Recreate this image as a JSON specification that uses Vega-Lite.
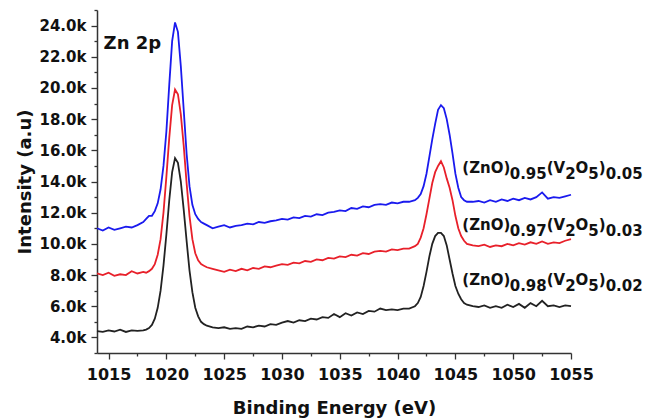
{
  "$schema": "https://vega.github.io/schema/vega-lite/v6.json",
  "width": 474,
  "height": 343,
  "autosize": {"type": "none"},
  "padding": {"left": 97, "top": 10, "right": 93, "bottom": 66},
  "background": "white",
  "config": {"view": {"stroke": null}},
  "datasets": {
    "spec": [
      {"e":1014,"b":4400,"r":8100,"u":11000},
      {"e":1014.5,"b":4350,"r":8000,"u":10850},
      {"e":1015,"b":4450,"r":8150,"u":11050},
      {"e":1015.5,"b":4380,"r":7950,"u":10900},
      {"e":1016,"b":4500,"r":8050,"u":11000},
      {"e":1016.5,"b":4350,"r":8000,"u":11100},
      {"e":1017,"b":4450,"r":8250,"u":11050},
      {"e":1017.5,"b":4420,"r":8100,"u":11200},
      {"e":1018,"b":4450,"r":8200,"u":11400},
      {"e":1018.25,"b":4500,"r":8150,"u":11600},
      {"e":1018.5,"b":4600,"r":8250,"u":11800},
      {"e":1018.75,"b":4800,"r":8400,"u":11800},
      {"e":1019,"b":5200,"r":8700,"u":12100},
      {"e":1019.25,"b":5900,"r":9300,"u":12600},
      {"e":1019.5,"b":7000,"r":10300,"u":13500},
      {"e":1019.75,"b":8600,"r":12000,"u":15000},
      {"e":1020,"b":10600,"r":14300,"u":17200},
      {"e":1020.25,"b":12800,"r":16800,"u":20200},
      {"e":1020.5,"b":14600,"r":18900,"u":23000},
      {"e":1020.75,"b":15500,"r":19900,"u":24200},
      {"e":1021,"b":15200,"r":19600,"u":23600},
      {"e":1021.25,"b":14000,"r":18300,"u":21400},
      {"e":1021.5,"b":12200,"r":16300,"u":18600},
      {"e":1021.75,"b":10200,"r":13900,"u":15800},
      {"e":1022,"b":8300,"r":11800,"u":13700},
      {"e":1022.25,"b":6900,"r":10300,"u":12500},
      {"e":1022.5,"b":5900,"r":9400,"u":11900},
      {"e":1022.75,"b":5350,"r":8950,"u":11600},
      {"e":1023,"b":5000,"r":8700,"u":11400},
      {"e":1023.25,"b":4850,"r":8600,"u":11300},
      {"e":1023.5,"b":4750,"r":8500,"u":11200},
      {"e":1024,"b":4650,"r":8400,"u":11000},
      {"e":1024.5,"b":4600,"r":8300,"u":11100},
      {"e":1025,"b":4650,"r":8200,"u":11200},
      {"e":1025.5,"b":4550,"r":8350,"u":11050},
      {"e":1026,"b":4600,"r":8250,"u":11150},
      {"e":1026.5,"b":4550,"r":8400,"u":11200},
      {"e":1027,"b":4700,"r":8300,"u":11300},
      {"e":1027.5,"b":4650,"r":8450,"u":11250},
      {"e":1028,"b":4750,"r":8400,"u":11400},
      {"e":1028.5,"b":4700,"r":8550,"u":11350},
      {"e":1029,"b":4850,"r":8500,"u":11450},
      {"e":1029.5,"b":4800,"r":8600,"u":11500},
      {"e":1030,"b":4950,"r":8700,"u":11600},
      {"e":1030.5,"b":5050,"r":8650,"u":11550},
      {"e":1031,"b":4950,"r":8800,"u":11700},
      {"e":1031.5,"b":5100,"r":8750,"u":11650},
      {"e":1032,"b":5050,"r":8900,"u":11800},
      {"e":1032.5,"b":5200,"r":8850,"u":11750},
      {"e":1033,"b":5150,"r":9000,"u":11900},
      {"e":1033.5,"b":5300,"r":8950,"u":11850},
      {"e":1034,"b":5250,"r":9100,"u":12000},
      {"e":1034.5,"b":5500,"r":9050,"u":12050},
      {"e":1035,"b":5300,"r":9200,"u":12150},
      {"e":1035.5,"b":5550,"r":9150,"u":12100},
      {"e":1036,"b":5400,"r":9300,"u":12300},
      {"e":1036.5,"b":5600,"r":9250,"u":12250},
      {"e":1037,"b":5500,"r":9400,"u":12400},
      {"e":1037.5,"b":5700,"r":9350,"u":12350},
      {"e":1038,"b":5650,"r":9500,"u":12500},
      {"e":1038.5,"b":5850,"r":9550,"u":12550},
      {"e":1039,"b":5750,"r":9500,"u":12500},
      {"e":1039.5,"b":5800,"r":9650,"u":12650},
      {"e":1040,"b":5750,"r":9600,"u":12600},
      {"e":1040.5,"b":5850,"r":9700,"u":12700},
      {"e":1041,"b":5850,"r":9700,"u":12700},
      {"e":1041.5,"b":6000,"r":9850,"u":12800},
      {"e":1041.75,"b":6200,"r":10000,"u":12950},
      {"e":1042,"b":6600,"r":10400,"u":13200},
      {"e":1042.25,"b":7300,"r":11000,"u":13700},
      {"e":1042.5,"b":8200,"r":11900,"u":14500},
      {"e":1042.75,"b":9200,"r":12900,"u":15600},
      {"e":1043,"b":10000,"r":13900,"u":16700},
      {"e":1043.25,"b":10500,"r":14600,"u":17700},
      {"e":1043.5,"b":10700,"r":15000,"u":18600},
      {"e":1043.75,"b":10700,"r":15300,"u":18900},
      {"e":1044,"b":10500,"r":14900,"u":18700},
      {"e":1044.25,"b":9900,"r":14200,"u":18000},
      {"e":1044.5,"b":9000,"r":13600,"u":17000},
      {"e":1044.75,"b":8100,"r":12800,"u":15800},
      {"e":1045,"b":7300,"r":11800,"u":14500},
      {"e":1045.25,"b":6800,"r":11000,"u":13600},
      {"e":1045.5,"b":6450,"r":10500,"u":13000},
      {"e":1045.75,"b":6200,"r":10200,"u":12800},
      {"e":1046,"b":6100,"r":10000,"u":12700},
      {"e":1046.5,"b":6000,"r":9900,"u":12700},
      {"e":1047,"b":5950,"r":9850,"u":12750},
      {"e":1047.5,"b":6050,"r":9950,"u":12650},
      {"e":1048,"b":5900,"r":9800,"u":12800},
      {"e":1048.5,"b":6000,"r":9900,"u":12700},
      {"e":1049,"b":5900,"r":9850,"u":12850},
      {"e":1049.5,"b":6100,"r":10000,"u":12750},
      {"e":1050,"b":5950,"r":9900,"u":12900},
      {"e":1050.5,"b":6150,"r":10050,"u":12800},
      {"e":1051,"b":5900,"r":9950,"u":12950},
      {"e":1051.5,"b":6200,"r":10100,"u":12850},
      {"e":1052,"b":6000,"r":10000,"u":13000},
      {"e":1052.5,"b":6350,"r":10150,"u":13300},
      {"e":1053,"b":6000,"r":10000,"u":12900},
      {"e":1053.5,"b":6050,"r":10100,"u":13000},
      {"e":1054,"b":5950,"r":10050,"u":12950},
      {"e":1054.5,"b":6050,"r":10200,"u":13050},
      {"e":1055,"b":6000,"r":10300,"u":13150}
    ],
    "labels": [
      {"t":"(ZnO)","e":1045.6,"v":14550,"k":"m"},
      {"t":"0.95","e":1049.7,"v":14550,"k":"s"},
      {"t":"(V","e":1052.9,"v":14550,"k":"m"},
      {"t":"2","e":1054.5,"v":14550,"k":"s"},
      {"t":"O","e":1055.4,"v":14550,"k":"m"},
      {"t":"5","e":1056.5,"v":14550,"k":"s"},
      {"t":")","e":1057.4,"v":14550,"k":"m"},
      {"t":"0.05","e":1058.0,"v":14550,"k":"s"},
      {"t":"(ZnO)","e":1045.6,"v":10900,"k":"m"},
      {"t":"0.97","e":1049.7,"v":10900,"k":"s"},
      {"t":"(V","e":1052.9,"v":10900,"k":"m"},
      {"t":"2","e":1054.5,"v":10900,"k":"s"},
      {"t":"O","e":1055.4,"v":10900,"k":"m"},
      {"t":"5","e":1056.5,"v":10900,"k":"s"},
      {"t":")","e":1057.4,"v":10900,"k":"m"},
      {"t":"0.03","e":1058.0,"v":10900,"k":"s"},
      {"t":"(ZnO)","e":1045.6,"v":7390,"k":"m"},
      {"t":"0.98","e":1049.7,"v":7390,"k":"s"},
      {"t":"(V","e":1052.9,"v":7390,"k":"m"},
      {"t":"2","e":1054.5,"v":7390,"k":"s"},
      {"t":"O","e":1055.4,"v":7390,"k":"m"},
      {"t":"5","e":1056.5,"v":7390,"k":"s"},
      {"t":")","e":1057.4,"v":7390,"k":"m"},
      {"t":"0.02","e":1058.0,"v":7390,"k":"s"},
      {"t":"Zn 2p","e":1014.57,"v":22500,"k":"z"}
    ]
  },
  "encoding": {
    "x": {
      "field": "e", "type": "quantitative",
      "scale": {"domain": [1014, 1055], "nice": false, "zero": false},
      "axis": {
        "title": "Binding Energy (eV)",
        "values": [1015, 1017.5, 1020, 1022.5, 1025, 1027.5, 1030, 1032.5, 1035, 1037.5, 1040, 1042.5, 1045, 1047.5, 1050, 1052.5, 1055],
        "labelExpr": "datum.value % 5 === 0 ? format(datum.value, 'd') : ''",
        "tickSize": {"condition": {"test": "datum.value % 5 !== 0", "value": 3}, "value": 6},
        "grid": false,
        "domainColor": "#333", "domainWidth": 1.5,
        "tickColor": "#333", "tickWidth": 1.3,
        "labelFont": "DejaVu Sans", "labelFontWeight": "bold", "labelFontSize": 16, "labelColor": "#111",
        "labelPadding": 7, "labelOverlap": false, "labelFlush": false,
        "titleFont": "DejaVu Sans", "titleFontWeight": "bold", "titleFontSize": 18, "titleColor": "#111",
        "titlePadding": 17
      }
    },
    "y": {
      "field": "v", "type": "quantitative",
      "scale": {"domain": [3000, 25000], "nice": false, "zero": false},
      "axis": {
        "title": "Intensity (a.u)",
        "values": [3000, 4000, 5000, 6000, 7000, 8000, 9000, 10000, 11000, 12000, 13000, 14000, 15000, 16000, 17000, 18000, 19000, 20000, 21000, 22000, 23000, 24000, 25000],
        "labelExpr": "(datum.value % 2000 === 0 && datum.value >= 4000) ? (format(datum.value / 1000, '.1f') + 'k') : ''",
        "tickSize": {"condition": {"test": "datum.value % 2000 !== 0", "value": 3}, "value": 6},
        "grid": false,
        "domainColor": "#333", "domainWidth": 1.5,
        "tickColor": "#333", "tickWidth": 1.3,
        "labelFont": "DejaVu Sans", "labelFontWeight": "bold", "labelFontSize": 15, "labelColor": "#111",
        "labelPadding": 5, "labelOverlap": false, "labelFlush": false,
        "titleFont": "DejaVu Sans", "titleFontWeight": "bold", "titleFontSize": 18, "titleColor": "#111",
        "titlePadding": 5
      }
    }
  },
  "layer": [
    {
      "data": {"name": "spec"},
      "transform": [{"fold": ["b", "r", "u"], "as": ["s", "v"]}],
      "mark": {"type": "line", "strokeWidth": 1.8, "interpolate": "linear"},
      "encoding": {
        "color": {
          "field": "s", "type": "nominal",
          "scale": {"domain": ["b", "r", "u"], "range": ["#222222", "#e8202a", "#1a1aee"]},
          "legend": null
        }
      }
    },
    {
      "data": {"name": "labels"},
      "transform": [{"filter": "datum.k === 'm'"}],
      "mark": {"type": "text", "align": "left", "baseline": "alphabetic", "font": "DejaVu Sans", "fontWeight": "bold", "fontSize": 15, "color": "#111"},
      "encoding": {"text": {"field": "t"}}
    },
    {
      "data": {"name": "labels"},
      "transform": [{"filter": "datum.k === 's'"}],
      "mark": {"type": "text", "align": "left", "baseline": "alphabetic", "dy": 6, "font": "DejaVu Sans", "fontWeight": "bold", "fontSize": 15, "color": "#111"},
      "encoding": {"text": {"field": "t"}}
    },
    {
      "data": {"name": "labels"},
      "transform": [{"filter": "datum.k === 'z'"}],
      "mark": {"type": "text", "align": "left", "baseline": "alphabetic", "font": "DejaVu Sans", "fontWeight": "bold", "fontSize": 18, "color": "#111"},
      "encoding": {"text": {"field": "t"}}
    }
  ]
}
